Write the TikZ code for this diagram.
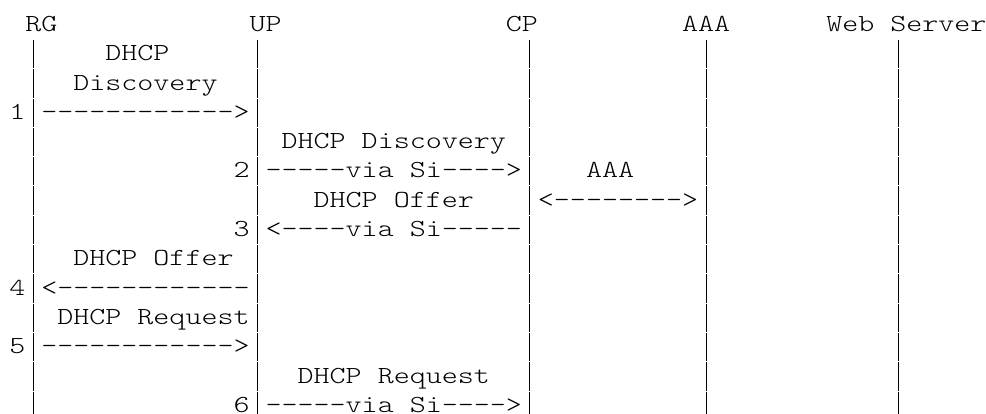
\documentclass[tikz,border=0pt]{standalone}
\usepackage{fontspec}
\usepackage{graphicx}
\newfontfamily\lmlight{lmmonolt10-regular}[Extension=.otf]
\tikzset{
  txt/.style={anchor=base west, inner sep=0pt, outer sep=0pt,
              font=\lmlight\fontsize{24.5}{29.3}\selectfont},
  life/.style={line width=1.0pt, black},
}
\newcommand\dsh{-\kern0pt}
\newcommand\tx[4]{\node[txt] (#1) at ({9.29+16.02*#2},{31.5+29.3*#3}) {\scalebox{1.2455}[1]{#4}};}
\begin{document}
\begin{tikzpicture}[x=1pt,y=-1pt]
\useasboundingbox (0,0) rectangle (986,414);
% lifelines
\foreach \c in {1,15,32,43,55}{
  \foreach \r in {1,...,13}{
    \draw[life] ({17.3+16.02*\c},{39.5+29.3*(\r-1)+0.5}) -- ({17.3+16.02*\c},{39.5+29.3*\r-0.5});
  }
}
% row 0: participants
\tx{rg}{1}{0}{RG}
\tx{up}{15}{0}{UP}
\tx{cp}{31}{0}{CP}
\tx{aaa}{42}{0}{AAA}
\tx{web}{51}{0}{Web Server}
% message 1
\tx{m1a}{6}{1}{DHCP}
\tx{m1b}{4}{2}{Discovery}
\tx{n1}{0}{3}{1}
\tx{a1}{2}{3}{\dsh\dsh\dsh\dsh\dsh\dsh\dsh\dsh\dsh\dsh\dsh\dsh>}
% message 2
\tx{m2}{17}{4}{DHCP Discovery}
\tx{n2}{14}{5}{2}
\tx{a2}{16}{5}{\dsh\dsh\dsh\dsh\dsh via Si\dsh\dsh\dsh\dsh>}
\tx{m3}{36}{5}{AAA}
% AAA exchange and message 3
\tx{m4}{19}{6}{DHCP Offer}
\tx{a3}{33}{6}{<\dsh\dsh\dsh\dsh\dsh\dsh\dsh\dsh>}
\tx{n3}{14}{7}{3}
\tx{a4}{16}{7}{<\dsh\dsh\dsh\dsh via Si\dsh\dsh\dsh\dsh\dsh}
% message 4
\tx{m5}{4}{8}{DHCP Offer}
\tx{n4}{0}{9}{4}
\tx{a5}{2}{9}{<\dsh\dsh\dsh\dsh\dsh\dsh\dsh\dsh\dsh\dsh\dsh\dsh}
% message 5
\tx{m6}{3}{10}{DHCP Request}
\tx{n5}{0}{11}{5}
\tx{a6}{2}{11}{\dsh\dsh\dsh\dsh\dsh\dsh\dsh\dsh\dsh\dsh\dsh\dsh>}
% message 6
\tx{m7}{18}{12}{DHCP Request}
\tx{n6}{14}{13}{6}
\tx{a7}{16}{13}{\dsh\dsh\dsh\dsh\dsh via Si\dsh\dsh\dsh\dsh>}
\end{tikzpicture}
\end{document}
